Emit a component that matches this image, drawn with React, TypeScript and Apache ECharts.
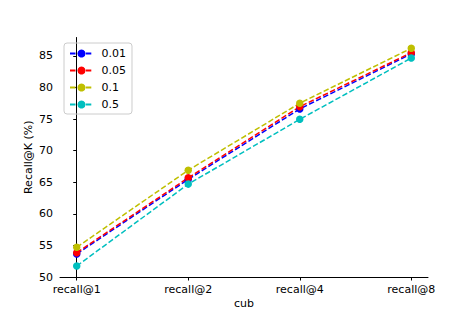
import React, { useEffect, useRef } from "react";
import * as echarts from "echarts";

const categories = ["recall@1", "recall@2", "recall@4", "recall@8"];
const seriesNames = ["0.01", "0.05", "0.1", "0.5"];
const s001 = [53.65, 65.45, 76.6, 85.3];
const s005 = [53.85, 65.7, 76.95, 85.5];
const s01 = [54.7, 66.9, 77.5, 86.2];
const s05 = [51.74, 64.7, 74.95, 84.65];
const colors = ["#0000ff", "#ff0000", "#bfbf00", "#00bfbf"];
const yTicks = [50, 55, 60, 65, 70, 75, 80, 85];
const xTicks = [0, 1, 2, 3];

const FONT = "DejaVu Sans";
const FS = 11;

export default function App() {
  const ref = useRef<HTMLDivElement>(null);
  useEffect(() => {
    const chart = echarts.init(ref.current!, null, { renderer: "svg" });
    const all = [s001, s005, s01, s05];
    chart.setOption({
      animation: false,
      backgroundColor: "#ffffff",
      grid: { left: 60, right: 48, top: 37.5, bottom: 40, containLabel: false },
      legend: {
        orient: "vertical",
        left: 64,
        top: 43,
        padding: [5, 6, 4, 5],
        itemWidth: 23,
        itemHeight: 10,
        itemGap: 6,
        borderColor: "#cccccc",
        borderWidth: 1,
        borderRadius: 3,
        textStyle: { fontFamily: FONT, fontSize: FS, color: "#000", padding: [0, 0, 0, 3.5] },
        data: seriesNames,
      },
      xAxis: {
        type: "value",
        min: -0.15,
        max: 3.15,
        name: "cub",
        nameLocation: "middle",
        nameGap: 21,
        nameMoveOverlap: false,
        nameTextStyle: { fontFamily: FONT, fontSize: FS, color: "#000" },
        splitLine: { show: false },
        axisLine: { show: true, lineStyle: { color: "#000", width: 1 } },
        axisTick: { show: true, length: 3.5, customValues: xTicks, lineStyle: { color: "#000" } },
        axisLabel: {
          customValues: xTicks,
          margin: 7,
          fontFamily: FONT,
          fontSize: FS,
          color: "#000",
          formatter: (v: number) => categories[Math.round(v)] ?? "",
        },
      },
      yAxis: {
        type: "value",
        min: 50,
        max: 87.9,
        name: "Recall@K (%)",
        nameLocation: "middle",
        nameGap: 26,
        nameMoveOverlap: false,
        nameTextStyle: { fontFamily: FONT, fontSize: FS, color: "#000" },
        splitLine: { show: false },
        axisLine: { show: true, lineStyle: { color: "#000", width: 1 } },
        axisTick: { show: true, length: 3.5, customValues: yTicks, lineStyle: { color: "#000" } },
        axisLabel: {
          customValues: yTicks,
          margin: 7,
          fontFamily: FONT,
          fontSize: FS,
          color: "#000",
        },
      },
      series: seriesNames.map((name, i) => ({
        name,
        type: "line",
        data: all[i].map((v, k) => [xTicks[k], v]),
        symbol: "circle",
        symbolSize: 7.5,
        color: colors[i],
        itemStyle: { color: colors[i] },
        lineStyle: { color: colors[i], width: 1.5, type: [5.5, 2.4] },
      })),
    });
    return () => chart.dispose();
  }, []);
  return <div ref={ref} style={{ width: 476, height: 317, position: "absolute", left: 0, top: 0 }} />;
}
